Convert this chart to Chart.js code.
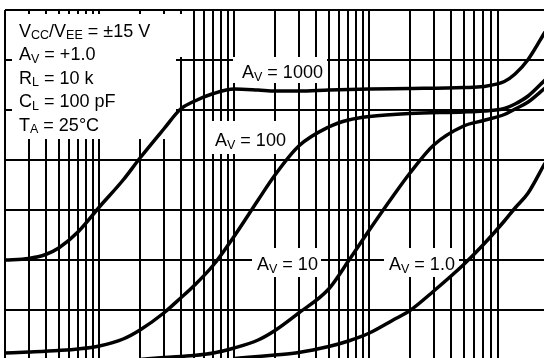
<!DOCTYPE html>
<html>
<head>
<meta charset="utf-8">
<script src="https://cdn.jsdelivr.net/npm/chart.js@4/dist/chart.umd.min.js"></script>
<style>
  html, body { margin: 0; padding: 0; background: #fff; overflow: hidden; width: 544px; height: 358px; }
  #wrap { position: absolute; left: 0; top: 0; width: 545px; height: 360px; }
  canvas { position: absolute; left: 0; top: 0; }
  .lbl { position: absolute; font-family: "Liberation Sans", Arial, Helvetica, sans-serif; font-size: 18px; line-height: 18px; color: #000; white-space: nowrap; z-index: 2; }
  .blk { line-height: 23.5px; }
  .s { font-size: 12.5px; line-height: 0; position: relative; top: 2.5px; }
</style>
</head>
<body>
<div id="wrap">
  <canvas id="c" width="545" height="360"></canvas>
  <div class="lbl blk" style="left:19px; top:19.5px;">V<span class="s">CC</span>/V<span class="s">EE</span> = ±15 V<br>A<span class="s">V</span> = +1.0<br>R<span class="s">L</span> = 10 k<br>C<span class="s">L</span> = 100 pF<br>T<span class="s">A</span> = 25°C</div>
  <div class="lbl" style="left:242px; top:63px;">A<span class="s">V</span> = 1000</div>
  <div class="lbl" style="left:215px; top:131px;">A<span class="s">V</span> = 100</div>
  <div class="lbl" style="left:257px; top:255px;">A<span class="s">V</span> = 10</div>
  <div class="lbl" style="left:389px; top:255px;">A<span class="s">V</span> = 1.0</div>
</div>
<script>
// Vertical grid (log frequency) and horizontal grid values
const xGridTicks = [20,30,40,50,60,70,80,90,
  100,200,300,400,500,600,700,800,900,
  1000,2000,3000,4000,5000,6000,7000,8000,9000,
  10000,20000,30000,40000,50000,60000,70000,80000,90000];
const yGridTicks = [0,1,2,3,4,5,6,7];

// A_V = 1000
const freqAv1000 = [20,30,40,50,70,100,150,200,300,400,500,700,1000,1500,2000,3000,5000,10000,20000,50000,70000,100000,120000,150000,200000];
const valAv1000  = [2.0,2.03,2.11,2.24,2.57,3.06,3.60,4.04,4.62,5.02,5.17,5.33,5.42,5.40,5.38,5.38,5.40,5.42,5.43,5.45,5.47,5.57,5.72,6.01,6.56];

// A_V = 100
const freqAv100 = [20,30,50,70,100,150,200,300,400,500,700,1000,1500,2000,3000,5000,7000,10000,20000,50000,70000,100000,120000,150000,200000];
const valAv100  = [0.14,0.16,0.19,0.22,0.28,0.42,0.60,0.94,1.24,1.48,1.90,2.48,3.20,3.70,4.28,4.66,4.80,4.87,4.93,4.96,4.98,5.03,5.12,5.28,5.60];

// A_V = 10
const freqAv10 = [200,300,500,700,1000,1500,2000,3000,5000,7000,10000,15000,20000,30000,50000,70000,100000,120000,150000,200000];
const valAv10  = [0.01,0.05,0.09,0.14,0.24,0.40,0.59,0.94,1.42,1.98,2.60,3.28,3.74,4.30,4.68,4.79,4.91,5.02,5.16,5.44];

// A_V = 1.0
const freqAv1 = [1000,1500,2000,3000,5000,7000,10000,15000,20000,30000,50000,70000,100000,120000,150000,200000];
const valAv1  = [0.03,0.07,0.10,0.15,0.27,0.38,0.54,0.80,0.99,1.38,1.91,2.31,2.78,3.04,3.34,3.94];

function pts(xs, ys) { return xs.map((x, i) => ({ x: x, y: ys[i] })); }

const series = [
  { label: 'AV = 1000', f: freqAv1000, v: valAv1000 },
  { label: 'AV = 100',  f: freqAv100,  v: valAv100 },
  { label: 'AV = 10',   f: freqAv10,   v: valAv10 },
  { label: 'AV = 1.0',  f: freqAv1,    v: valAv1 }
];

// White label backgrounds drawn above the grid but below the curves
const labelBg = {
  id: 'labelBg',
  beforeDatasetsDraw(chart) {
    const ctx = chart.ctx;
    ctx.save();
    ctx.fillStyle = '#fff';
    ctx.fillRect(12, 14, 172, 43);
    ctx.fillRect(12, 14, 164, 125);
    ctx.fillRect(233, 57, 94, 26);
    ctx.fillRect(207, 121, 85, 33);
    ctx.fillRect(252, 248, 69, 29);
    ctx.fillRect(384, 248, 75, 29);
    ctx.restore();
  }
};

new Chart(document.getElementById('c'), {
  type: 'line',
  data: {
    datasets: series.map(s => ({
      label: s.label,
      data: pts(s.f, s.v),
      borderColor: '#000',
      borderWidth: 3.5,
      pointRadius: 0,
      fill: false,
      cubicInterpolationMode: 'monotone'
    }))
  },
  options: {
    responsive: false,
    animation: false,
    devicePixelRatio: 1,
    layout: { padding: { left: 5, top: 10, right: 0, bottom: 0 } },
    plugins: { legend: { display: false }, tooltip: { enabled: false } },
    scales: {
      x: {
        type: 'logarithmic',
        min: 20, max: 200000,
        afterBuildTicks: (scale) => { scale.ticks = xGridTicks.map(v => ({ value: v })); },
        ticks: { display: false },
        grid: { color: '#000', lineWidth: 2, drawTicks: false },
        border: { display: false }
      },
      y: {
        type: 'linear',
        min: 0, max: 7,
        afterBuildTicks: (scale) => { scale.ticks = yGridTicks.map(v => ({ value: v })); },
        ticks: { display: false },
        grid: { color: '#000', lineWidth: 2, drawTicks: false },
        border: { display: false }
      }
    }
  },
  plugins: [labelBg]
});
</script>
</body>
</html>
